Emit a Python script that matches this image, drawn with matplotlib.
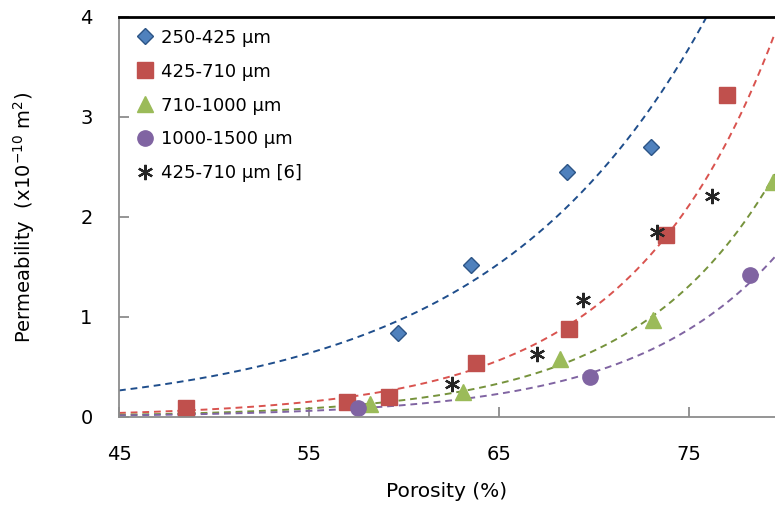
import matplotlib.pyplot as plt
import numpy as np

plt.rcParams['font.family'] = ['DejaVu Sans']

# porosity (%) and permeability (x1e-10 m2)
por_250 = [59.7, 63.5, 68.6, 73.0]
perm_250 = [0.84, 1.52, 2.45, 2.70]

por_425 = [48.5, 57.0, 59.2, 63.8, 68.7, 73.8, 77.0]
perm_425 = [0.09, 0.15, 0.20, 0.54, 0.88, 1.82, 3.22]

por_710 = [58.2, 63.1, 68.2, 73.1, 79.4]
perm_710 = [0.13, 0.25, 0.58, 0.97, 2.35]

por_1000 = [57.6, 69.8, 78.2]
perm_1000 = [0.09, 0.40, 1.42]

por_ref = [62.5, 67.0, 69.4, 73.3, 76.2]
perm_ref = [0.33, 0.63, 1.17, 1.85, 2.21]

fig = plt.figure(figsize=(7.75, 5.14), dpi=100)
ax = fig.add_axes([119 / 775, 97 / 514, 656 / 775, 400 / 514])

xmin, xmax = 45, 45 + 656 / 19.0
xs = np.linspace(xmin, xmax, 300)

def exp_fit(x, y):
    # exponential trendline, same as the spreadsheet one (fit on ln y)
    b, lna = np.polyfit(x, np.log(y), 1)
    return np.exp(lna + b * xs)

dash = (0, (3.5, 2.5))
ax.plot(xs, exp_fit(por_250, perm_250), ls=dash, color='#1F4E8C', lw=1.4)
ax.plot(xs, exp_fit(por_425, perm_425), ls=dash, color='#D9534F', lw=1.4)
ax.plot(xs, exp_fit(por_710, perm_710), ls=dash, color='#76933C', lw=1.4)
ax.plot(xs, exp_fit(por_1000, perm_1000), ls=dash, color='#8064A2', lw=1.4)

ax.plot(por_250, perm_250, 'D', ms=8.5, mfc='#4F81BD', mec='#2C5486', mew=1.0,
        ls='none', label='250-425 μm')
ax.plot(por_425, perm_425, 's', ms=11, mfc='#C0504D', mec='#C0504D',
        ls='none', label='425-710 μm')
ax.plot(por_710, perm_710, '^', ms=12, mfc='#9BBB59', mec='#9BBB59',
        ls='none', label='710-1000 μm')
ax.plot(por_1000, perm_1000, 'o', ms=11, mfc='#8064A2', mec='#8064A2',
        ls='none', label='1000-1500 μm')
ax.plot(por_ref, perm_ref, marker=(6, 2, 0), ms=11, mec='#262626', mew=1.6,
        ls='none', label='425-710 μm [6]')

ax.set_xlim(xmin, xmax)
ax.set_ylim(0, 4)
ax.set_xticks([45, 55, 65, 75])
ax.set_yticks([0, 1, 2, 3, 4])

for s in ['left', 'bottom']:
    ax.spines[s].set_color('#8C8C8C')
    ax.spines[s].set_linewidth(1.3)
ax.spines['top'].set_color('black')
ax.spines['top'].set_linewidth(2)
ax.spines['right'].set_visible(False)
ax.tick_params(direction='in', length=7, width=1.3, color='#8C8C8C',
               labelsize=14)
ax.tick_params(axis='y', pad=19)
ax.tick_params(axis='x', pad=20)

ax.set_xlabel('Porosity (%)', fontsize=14.5, labelpad=13)
ax.set_ylabel('Permeability  (x10$^{-10}$ m$^2$)', fontsize=14, labelpad=31)

ax.legend(loc='upper left', frameon=False, fontsize=13, handletextpad=0.1,
          labelspacing=0.88, borderaxespad=0.25, handlelength=1.6,
          bbox_to_anchor=(0.0, 1.0))

fig.savefig('out.png', dpi=100)
